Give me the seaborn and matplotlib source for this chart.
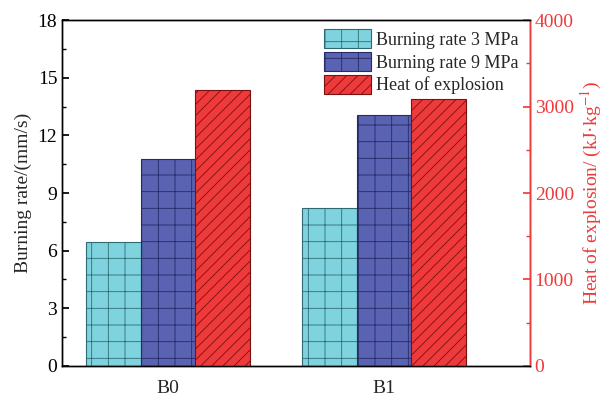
import matplotlib
matplotlib.use("Agg")
import matplotlib.pyplot as plt
import seaborn as sns
import pandas as pd
from matplotlib.patches import Patch
from matplotlib.ticker import MultipleLocator

sns.set_theme(style="ticks")
plt.rcParams['font.family'] = ['Liberation Serif', 'DejaVu Serif']
plt.rcParams['hatch.linewidth'] = 0.6
plt.rcParams['mathtext.fontset'] = 'stix'

samples = ["B0", "B1"]
rate_3mpa = [6.45, 8.24]
rate_9mpa = [10.77, 13.07]
heat = [3190, 3088]
series = ["Burning rate 3 MPa", "Burning rate 9 MPa", "Heat of explosion"]
colors = ["#7fd3de", "#5a62b2", "#ee3a3a"]
edges = ["#2f6a72", "#262a66", "#7a1010"]
hatches = ["+", "+", "///"]

rates = pd.DataFrame({
    "sample": samples * 2,
    "value": rate_3mpa + rate_9mpa,
    "series": [series[0]] * 2 + [series[1]] * 2,
})
heats = pd.DataFrame({"sample": samples, "value": heat, "series": [series[2]] * 2})
palette = dict(zip(series, colors))

fig = plt.figure(figsize=(6.09, 3.96), dpi=100)
ax = fig.add_axes([0.102, 0.076, 0.768, 0.873])
sns.barplot(data=rates, x="sample", y="value", hue="series", hue_order=series,
            palette=palette, width=0.757, dodge=True, ax=ax, legend=False,
            errorbar=None, saturation=1)
ax2 = ax.twinx()
sns.barplot(data=heats, x="sample", y="value", hue="series", hue_order=series,
            palette=palette, width=0.757, dodge=True, ax=ax2, legend=False,
            errorbar=None, saturation=1)

for p in ax.patches:
    fc = matplotlib.colors.to_hex(p.get_facecolor())
    i = colors.index(fc) if fc in colors else 0
    p.set_edgecolor(edges[i]); p.set_hatch(hatches[i]); p.set_linewidth(0.8)
for p in ax2.patches:
    p.set_edgecolor(edges[2]); p.set_hatch(hatches[2]); p.set_linewidth(0.8)

ax.set_xlim(-0.491, 1.676)
ax.set_ylim(0, 18)
ax2.set_ylim(0, 4000)
ax.yaxis.set_major_locator(MultipleLocator(3))
ax.yaxis.set_minor_locator(MultipleLocator(1.5))
ax2.yaxis.set_major_locator(MultipleLocator(1000))
ax2.yaxis.set_minor_locator(MultipleLocator(500))

ax.set_xlabel("")
ax.set_ylabel("Burning rate/(mm/s)", fontsize=14)
ax2.set_ylabel("Heat of explosion/ (kJ·kg$^{-1}$)", fontsize=14, color="#ee3a3a")

ax.tick_params(axis="y", which="both", direction="in", labelsize=14, colors="black")
ax.tick_params(axis="y", which="major", length=5)
ax.tick_params(axis="y", which="minor", length=3)
ax.tick_params(axis="x", length=0, labelsize=14, pad=10)
ax2.tick_params(axis="y", which="both", direction="in", labelsize=14,
                colors="#ee3a3a")
ax2.tick_params(axis="y", which="major", length=5)
ax2.tick_params(axis="y", which="minor", length=3)

for a in (ax, ax2):
    for s in a.spines.values():
        s.set_color("black"); s.set_linewidth(1.0)
ax2.spines["right"].set_color("#ee3a3a")

handles = [Patch(facecolor=colors[i], edgecolor=edges[i], hatch=hatches[i],
                 linewidth=0.8, label=series[i]) for i in range(3)]
ax2.legend(handles=handles, loc="upper right", frameon=False, fontsize=13,
           handlelength=2.6, handleheight=1.2, handletextpad=0.3,
           labelspacing=0.2, borderaxespad=0.1, bbox_to_anchor=(0.995, 1.0))

fig.savefig("out.png", dpi=100)
